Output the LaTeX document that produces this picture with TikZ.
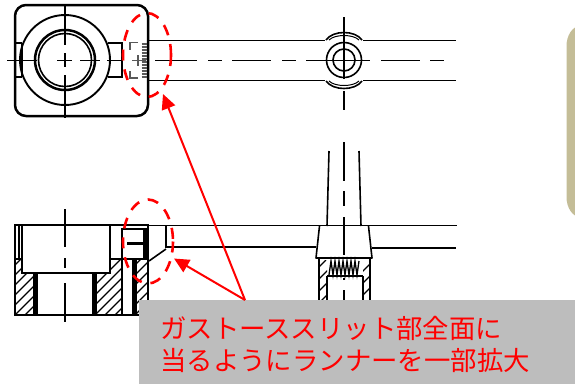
\documentclass[tikz,border=0pt]{standalone}
\usepackage{fontspec}
\newfontfamily\cjk{Noto Sans CJK JP}
\usetikzlibrary{arrows.meta}
\definecolor{beige}{HTML}{C4BD97}
\definecolor{greybox}{HTML}{BDBDBD}
\definecolor{redmark}{HTML}{FF0000}
\tikzset{
  heavy/.style={draw=black,line width=2.5pt},
  medium/.style={draw=black,line width=1.6pt},
  fine/.style={draw=black!65,line width=1.1pt},
  hatchline/.style={draw=black,line width=1.1pt},
  gatering/.style={draw=redmark,line width=2.6pt,dash pattern=on 11pt off 9pt},
  callout/.style={draw=redmark,line width=2pt,-{Triangle[length=15pt,width=14pt,fill=redmark]}},
  note/.style={anchor=west,text=redmark,font=\cjk\fontsize{26.4}{30}\selectfont,inner sep=0pt}
}
\begin{document}
\begin{tikzpicture}[x=1pt,y=-1pt]
\useasboundingbox (0,0) rectangle (575,384);
% beige panel
\begin{scope}
\clip (0,0) rectangle (575,384);
\fill[beige] (590,26) -- (580.5,26) .. controls (572,26) and (566.5,36) .. (566.5,46) -- (566.5,197) .. controls (566.5,207) and (572,217) .. (580.5,217) -- (590,217) -- cycle;
\end{scope}

% ---- top view
\draw[heavy,rounded corners=11pt] (15,5) rectangle (148,116);
\draw[line width=1.9pt] (65,60) circle[radius=45];
\draw[heavy] (65,60) circle[radius=30];
\draw[medium] (65,60) circle[radius=26.5];
\draw[heavy] (15,43) -- (22,43) (15,77) -- (22,77) (22,43) -- (22,77);
\draw[heavy] (108,43) -- (122,43) -- (122,77) -- (108,77);
\draw[medium] (65,6) -- (65,45) (65,53) -- (65,67) (65,75) -- (65,118);
\draw[medium] (7,60.5) -- (37,60.5) (57,60.5) -- (72,60.5) (80,60.5) -- (100,60.5) (107,60.5) -- (121,60.5);
% gate in the top view
\draw[fine] (138,42.5) -- (130,42.5) -- (130,50) (138,78) -- (130,78) -- (130,71);
\draw[fine] (132,60.5) -- (146,60.5) (138,55) -- (138,66);
\foreach \yy in {44,47,...,78} \draw[fine,line width=1.2pt] (141.5,\yy) -- (147,\yy);
% runner, top view
\draw[medium] (148,40.5) -- (325,40.5) (363,40.5) -- (456,40.5);
\draw[medium] (148,80.5) -- (325,80.5) (363,80.5) -- (456,80.5);
\draw[medium] (155,60.5) -- (197,60.5) (208,60.5) -- (222,60.5) (232,60.5) -- (271,60.5) (282,60.5) -- (296,60.5) (306,60.5) -- (370,60.5) (381,60.5) -- (420,60.5) (430,60.5) -- (444,60.5);
% sprue, top view
\draw[medium] (344,60) circle[radius=17.5];
\draw[medium] (344,60) circle[radius=11];
\draw[medium] (344,17) -- (344,79) (344,91) -- (344,110);
\draw[medium] (326,40) .. controls (333,30) and (355,30) .. (362,40);
\draw[line width=1pt] (329,40) .. controls (335,34) and (353,34) .. (359,40);
\draw[medium] (326,81) .. controls (333,91) and (355,91) .. (362,81);
\draw[line width=1pt] (329,81) .. controls (335,87) and (353,87) .. (359,81);

% ---- section view
\begin{scope}
\clip (15,273) rectangle (33,314) (15,259) rectangle (22,273) (97,273) rectangle (122,314) (110,259) rectangle (122,273) (137,259) rectangle (147,314);
\foreach \s in {-70,-60,...,180} \draw[hatchline] (10+\s,320) -- (90+\s,240);
\end{scope}
\begin{scope}
\clip (319,260) rectangle (327,300) (363,260) rectangle (370,300);
\foreach \s in {-36,-24,...,72} \draw[hatchline] (300+\s,310) -- (350+\s,260);
\end{scope}
\draw[heavy] (15,225) rectangle (148,315);
\draw[medium] (19,225) -- (19,258);
\draw[medium] (22,225) -- (22,273) -- (110,273) -- (110,225);
\draw[medium] (15,259) -- (22,259);
\draw[line width=5pt] (35.5,273) -- (35.5,315) (94.5,273) -- (94.5,315);
\draw[medium] (110,259) -- (122,259);
\draw[medium] (122,228) -- (122,315);
\draw[medium] (122,259) -- (148,259);
\draw[line width=4.5pt] (134.5,259) -- (134.5,315);
\draw[line width=5pt] (145.5,228) -- (145.5,259);
\draw[heavy] (122,229) -- (148,229);
\draw[line width=3.6pt] (127,243.5) -- (144,243.5);
\draw[medium] (65,209) -- (65,247) (65,258) -- (65,268) (65,283) -- (65,322);
% runner, section view
\draw[medium] (148,225.5) -- (457,225.5);
\draw[medium] (166,225.5) -- (166,247) -- (316,247);
\draw[medium] (372,248) -- (456,248);
\draw[medium] (149,261) -- (166,249);
% sprue, section view
\draw[medium] (329,151) -- (327,226) (359,151) -- (361,226);
\draw[medium] (344,142) -- (344,181) (344,191) -- (344,206) (344,217) -- (344,255);
\draw[medium,line join=round] (319.5,226) -- (316,258) -- (372,258) -- (368.5,226);
\draw[heavy] (319,259) -- (319,300) (370,259) -- (370,300);
\draw[medium] (327,276) -- (327,300) (363,276) -- (363,300) (327,276) -- (363,276);
\draw[line width=1.3pt] (329,275) -- (331,261) -- (333,275) -- (335,261) -- (337,275) -- (339,261) -- (341,275) -- (343,261) -- (345,275) -- (347,261) -- (349,275) -- (351,261) -- (353,275) -- (355,261) -- (357,275) -- (359,261);
\draw[medium] (344,278) -- (344,280) (344,290) -- (344,300);

% ---- marks and note
\node[fill=greybox,draw=none,anchor=north west,minimum width=436pt,minimum height=84pt,inner sep=0pt] (notebox) at (139,300) {};
\draw[gatering] (147,55) ellipse[x radius=24,y radius=42];
\draw[gatering] (148,241.5) ellipse[x radius=25,y radius=42];
\coordinate (tail) at (245,300);
\coordinate (toptip) at (163,94);
\coordinate (lowtip) at (174,258.5);
\draw[callout] (tail) -- (toptip);
\draw[callout] (tail) -- (lowtip);
\node[note] (line1) at (160,328) {ガストーススリット部全面に};
\node[note] (line2) at (160,360) {当るようにランナーを一部拡大};
\end{tikzpicture}
\end{document}
